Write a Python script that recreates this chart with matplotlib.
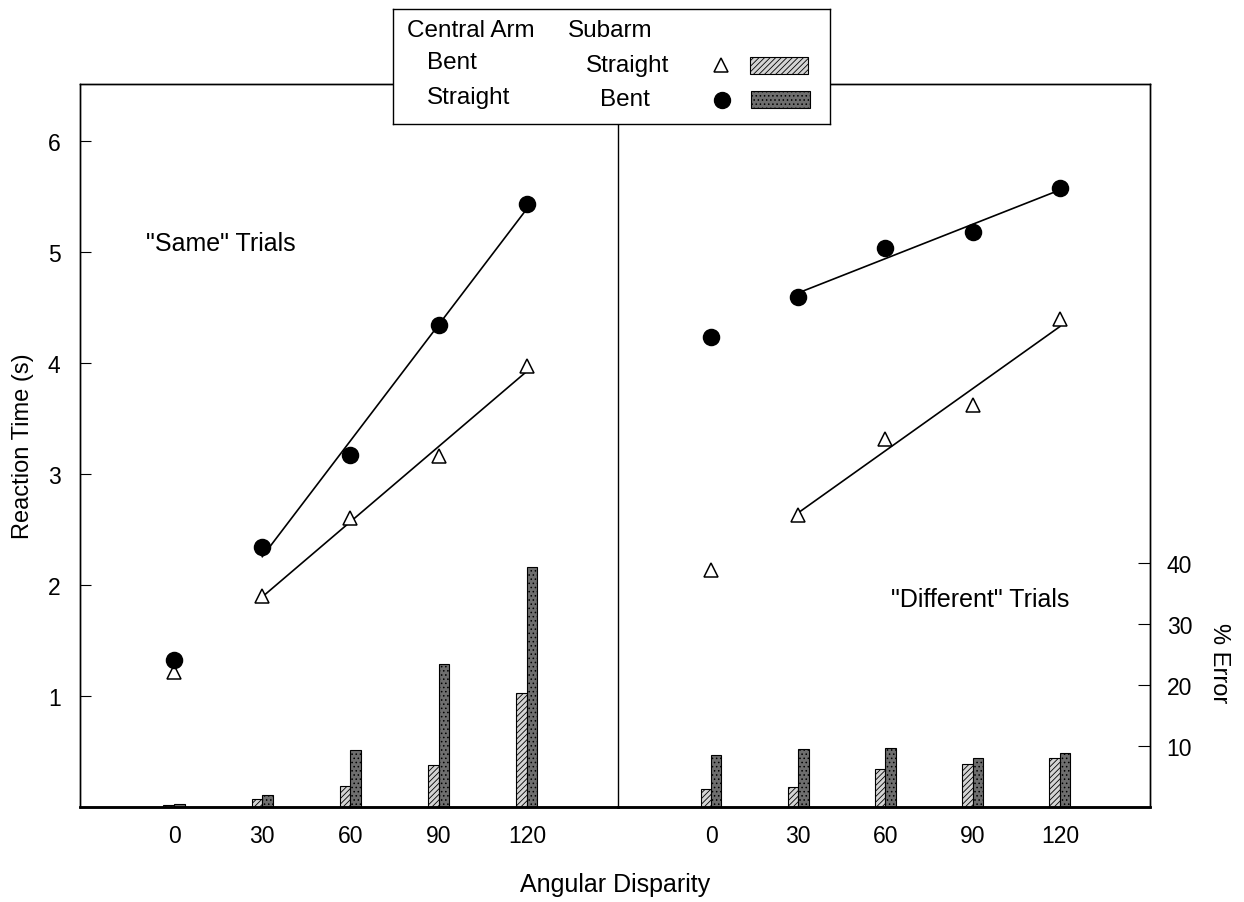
import numpy as np
import matplotlib
matplotlib.use('Agg')
import matplotlib.pyplot as plt
import matplotlib.patches as patches

plt.rcParams['font.family'] = ['Liberation Sans', 'DejaVu Sans']
plt.rcParams['hatch.linewidth'] = 0.6

# data
angles = [0, 30, 60, 90, 120]

# "Same" trials, reaction time (s)
same_bent_straight = [1.22, 1.90, 2.60, 3.16, 3.97]      # central bent, subarm straight (triangle)
same_straight_bent = [1.32, 2.34, 3.17, 4.34, 5.43]      # central straight, subarm bent (circle)
# "Different" trials
diff_bent_straight = [2.13, 2.63, 3.31, 3.62, 4.39]
diff_straight_bent = [4.23, 4.59, 5.03, 5.18, 5.57]

# % error
err_same_bs = [0.4, 1.3, 3.5, 6.9, 18.7]
err_same_sb = [0.55, 2.0, 9.4, 23.5, 39.3]
err_diff_bs = [3.0, 3.3, 6.3, 7.1, 8.1]
err_diff_sb = [8.6, 9.5, 9.6, 8.0, 8.8]

light = dict(facecolor='#d4d4d4', edgecolor='black', hatch='//////', linewidth=0.8)
dark = dict(facecolor='#6e6e6e', edgecolor='black', hatch='....', linewidth=0.8)

fig = plt.figure(figsize=(12.44, 9.03), dpi=100)
W, H = 1244, 903
x0, xm, x1 = 80, 618, 1150
yb, yt = 808, 85
axL = fig.add_axes([x0 / W, 1 - yb / H, (xm - x0) / W, (yb - yt) / H])
axR = fig.add_axes([xm / W, 1 - yb / H, (x1 - xm) / W, (yb - yt) / H])
axL2 = axL.twinx()
axR2 = axR.twinx()

ymax_rt = 6.51
ymax_err = ymax_rt * 18.2
bw = 3.6


def panel(ax, ax2, tri, circ, e_bs, e_sb):
    ax.set_xlim(-32, 151)
    ax.set_ylim(0, ymax_rt)
    ax2.set_ylim(0, ymax_err)
    ax2.bar(np.array(angles) - bw / 2, e_bs, width=bw, **light)
    ax2.bar(np.array(angles) + bw / 2, e_sb, width=bw, **dark)
    ax.set_zorder(ax2.get_zorder() + 1)
    ax.patch.set_visible(False)
    for vals, mk, fc, ms in [(tri, '^', 'white', 10), (circ, 'o', 'black', 11.5)]:
        xs = np.array(angles[1:])
        p = np.polyfit(xs, vals[1:], 1)
        ax.plot([30, 120], np.polyval(p, [30, 120]), color='black', lw=1.2)
        ax.plot(angles, vals, linestyle='none', marker=mk, markersize=ms,
                markerfacecolor=fc, markeredgecolor='black', markeredgewidth=1.1)
    ax.set_xticks(angles)
    ax.tick_params(axis='x', length=0, pad=12, labelsize=16.5)
    for a in (ax, ax2):
        for s in a.spines.values():
            s.set_linewidth(1.0)
        a.spines['bottom'].set_linewidth(1.8)


panel(axL, axL2, same_bent_straight, same_straight_bent, err_same_bs, err_same_sb)
panel(axR, axR2, diff_bent_straight, diff_straight_bent, err_diff_bs, err_diff_sb)

# single thin divider between the panels
axR.spines['left'].set_visible(False)
axR2.spines['left'].set_visible(False)
axL2.spines['right'].set_visible(False)

axL.set_yticks([1, 2, 3, 4, 5, 6])
axL.tick_params(axis='y', direction='in', length=8, pad=14, labelsize=16.5)
axL.set_ylabel('Reaction Time (s)', fontsize=17, labelpad=10)
axL2.set_yticks([])
axR.set_yticks([])
axR2.set_yticks([10, 20, 30, 40])
axR2.tick_params(axis='y', direction='in', length=9, pad=12, labelsize=16.5)
axR2.set_ylabel('% Error', fontsize=17, rotation=-90, va='center')
axR2.yaxis.set_label_coords(1.13, 0.2)

axL.text(-9.5, 5.08, '"Same" Trials', fontsize=18, ha='left', va='center')
axR.text(62, 1.87, '"Different" Trials', fontsize=18, ha='left', va='center')

fig.text(615 / W, 1 - 885 / H, 'Angular Disparity', fontsize=18, ha='center', va='center')

# legend box
lx0, lx1, ly0, ly1 = 393, 830, 10, 125
lg = fig.add_axes([lx0 / W, 1 - ly1 / H, (lx1 - lx0) / W, (ly1 - ly0) / H])
lg.set_zorder(10)
lg.set_xlim(lx0, lx1)
lg.set_ylim(ly1, ly0)
lg.set_xticks([])
lg.set_yticks([])
for s in lg.spines.values():
    s.set_linewidth(1.0)
fs = 17.5
lg.text(407, 31, 'Central Arm', fontsize=fs, va='center')
lg.text(568, 31, 'Subarm', fontsize=fs, va='center')
lg.text(427, 63, 'Bent', fontsize=fs, va='center')
lg.text(586, 66, 'Straight', fontsize=fs, va='center')
lg.text(427, 98, 'Straight', fontsize=fs, va='center')
lg.text(600, 100, 'Bent', fontsize=fs, va='center')
lg.plot([721], [66], marker='^', markersize=10, markerfacecolor='white',
        markeredgecolor='black', markeredgewidth=1.1)
lg.plot([722], [101], marker='o', markersize=11.5, color='black')
lg.add_patch(patches.Rectangle((750, 58), 58, 17, **light))
lg.add_patch(patches.Rectangle((751, 92), 59, 17, **dark))

fig.savefig('out.png', dpi=100)
